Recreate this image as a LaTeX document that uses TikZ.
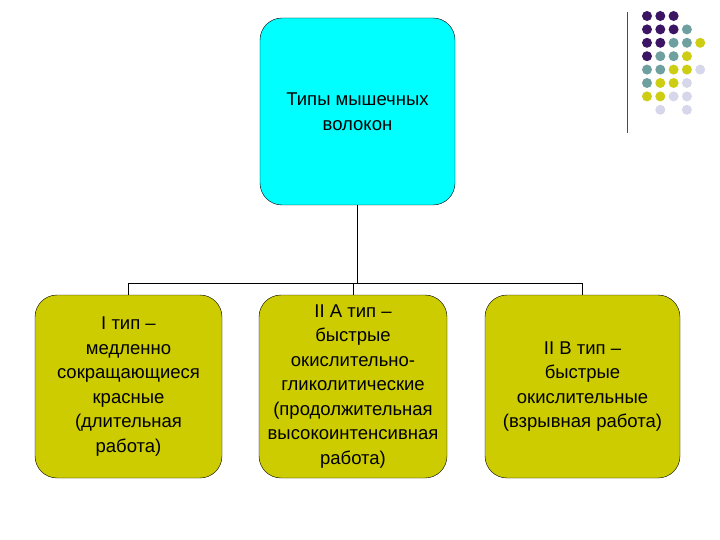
\documentclass[tikz,border=0pt]{standalone}
\usepackage{fontspec}
\setmainfont{Liberation Sans}
\begin{document}
\begin{tikzpicture}[x=1pt,y=-1pt,
  bx/.style={draw=black,rounded corners=22pt,align=center,inner sep=1pt,font=\fontsize{18.5}{24.5}\selectfont},
  dot/.style={circle,inner sep=0pt,minimum size=10pt}]
\useasboundingbox (0,0) rectangle (720,540);
\definecolor{cy}{RGB}{0,255,255}
\definecolor{ol}{RGB}{204,204,0}
\definecolor{pu}{RGB}{60,20,100}
\definecolor{te}{RGB}{110,160,160}
\definecolor{ye}{RGB}{205,205,20}
\definecolor{li}{RGB}{215,215,235}
\node[bx,fill=cy,minimum width=195pt,minimum height=187pt] (top) at (357.5,111.5) {Типы мышечных\\волокон};
\node[bx,fill=ol,minimum width=187pt,minimum height=183pt] (a) at (128.5,386.5) {I тип –\\медленно\\сокращающиеся\\красные\\(длительная\\работа)};
\node[bx,fill=ol,minimum width=188pt,minimum height=183pt] (b) at (353,386.5) {II А тип –\\быстрые\\окислительно-\\гликолитические\\(продолжительная\\высокоинтенсивная\\работа)};
\node[bx,fill=ol,minimum width=195pt,minimum height=183pt] (c) at (582.5,386.5) {II В тип –\\быстрые\\окислительные\\(взрывная работа)};
\coordinate (j) at (357.5,283);
\draw[thick] (top.south) -- (j);
\draw[thick] (a.north |- j) -- (c.north |- j);
\foreach \n in {a,b,c} \draw[thick] (\n.north |- j) -- (\n.north);
\draw[thick,gray!60!black] (627,12) -- (627,133);
\foreach \row [count=\r from 0] in {{P,P,P,N,N},{P,P,P,T,N},{P,P,T,T,Y},{P,T,T,Y,N},{T,T,Y,Y,L},{T,Y,Y,L,N},{Y,Y,L,L,N},{N,L,N,L,N}}{
  \foreach \c [count=\k from 0] in \row {
    \if\c P \node[dot,fill=pu] at (647+13.3*\k,16+13.4*\r) {};\fi
    \if\c T \node[dot,fill=te] at (647+13.3*\k,16+13.4*\r) {};\fi
    \if\c Y \node[dot,fill=ye] at (647+13.3*\k,16+13.4*\r) {};\fi
    \if\c L \node[dot,fill=li] at (647+13.3*\k,16+13.4*\r) {};\fi
  }}
\end{tikzpicture}
\end{document}
